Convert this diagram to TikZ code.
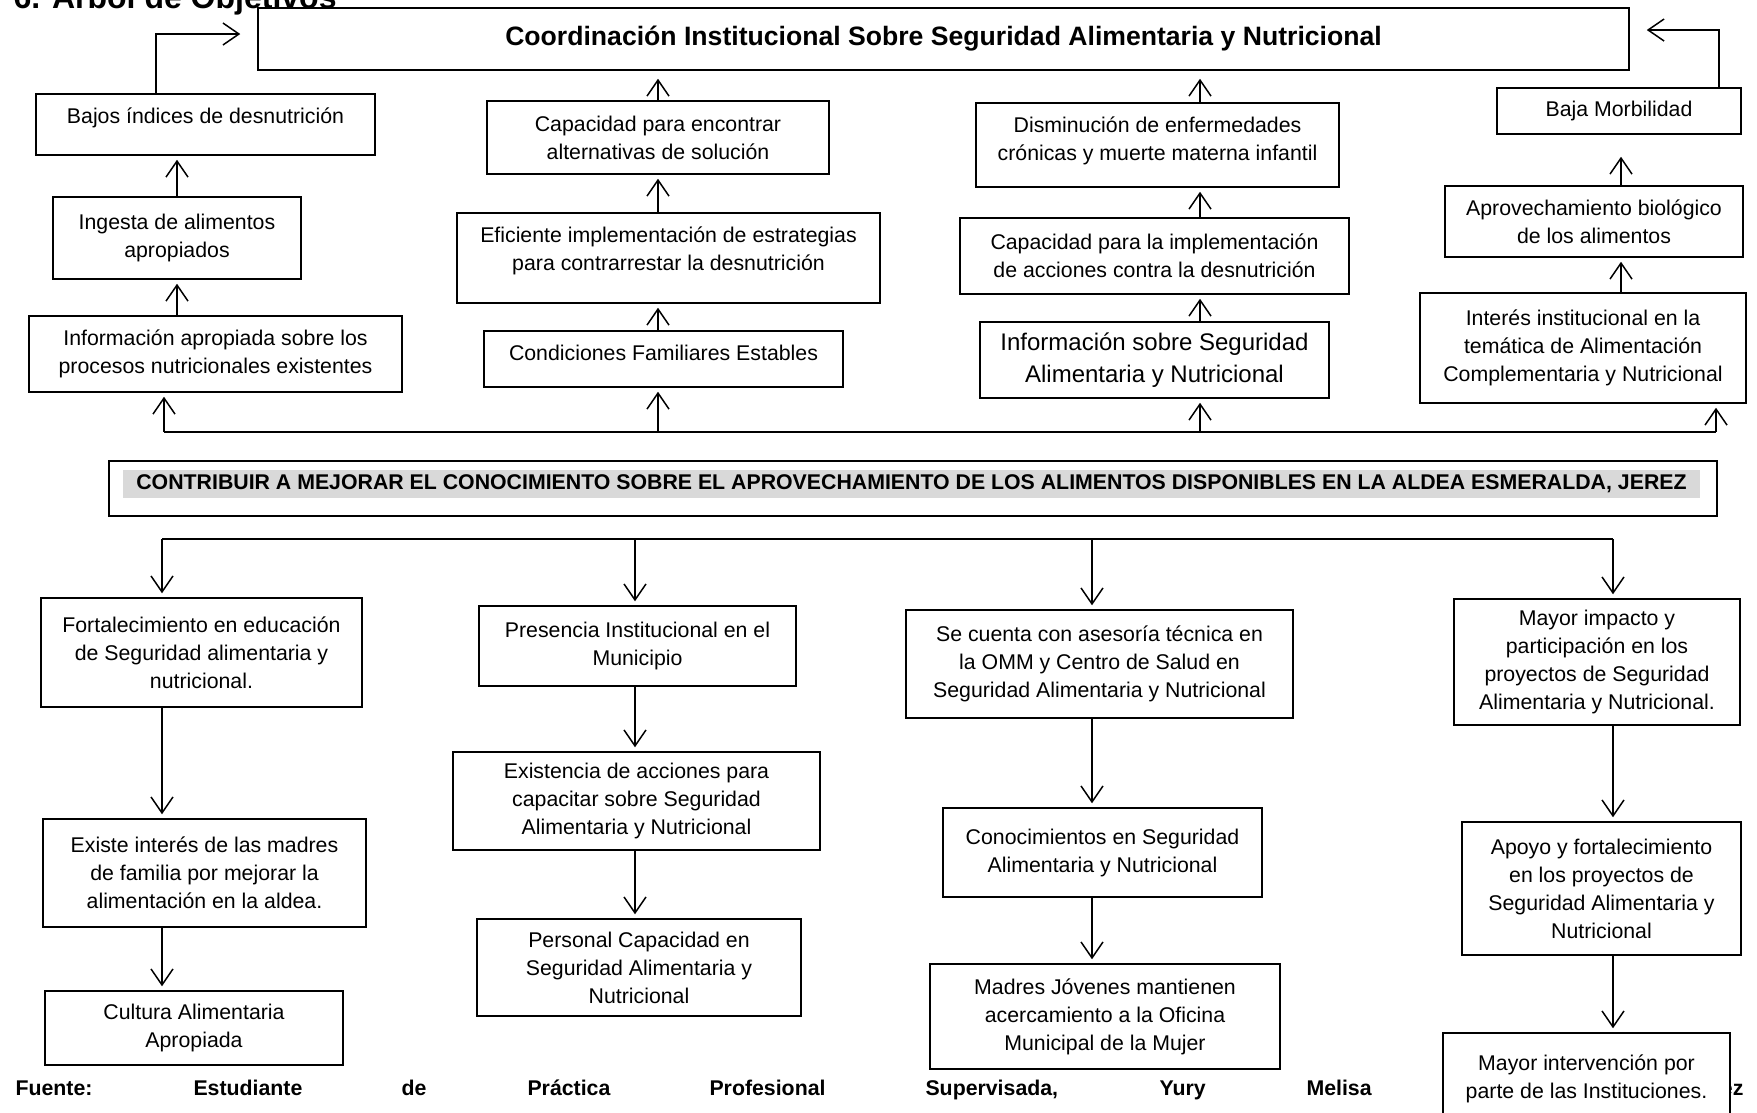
\documentclass[tikz,border=0pt]{standalone}
\usepackage{fontspec}
\setmainfont{Liberation Sans}
\usetikzlibrary{arrows.meta}

\tikzset{
  caja/.style={draw, line width=1.5pt, align=center, inner sep=0pt,
    font=\fontsize{21.3}{28}\selectfont},
  tam/.style 2 args={minimum width=#1pt, minimum height=#2pt},
  sube/.style={text depth=#1pt},
  linea/.style={line width=1.5pt},
  flecha/.style={line width=1.5pt, -{Straight Barb[length=16pt,width=22pt]}, shorten >=4pt},
  negrita/.style={font=\bfseries\fontsize{21.3}{28}\selectfont}
}

\begin{document}
\begin{tikzpicture}[x=1pt,y=-1pt]
  \useasboundingbox (0,0) rectangle (1757,1112);

  \node[anchor=base west, font=\bfseries\fontsize{32}{38}\selectfont] (titulo) at (10,8) {6. Árbol de Objetivos};

  % fines
  \node[caja, tam={1371}{62}, font=\bfseries\fontsize{26.6}{32}\selectfont] (coord) at (943.5,39)
    {Coordinación Institucional Sobre Seguridad Alimentaria y Nutricional};

  \node[caja, tam={339}{61}, sube=17.5] (bajos) at (205.5,124.5) {Bajos índices de desnutrición};
  \node[caja, tam={248}{82}] (ingesta) at (177,238) {Ingesta de alimentos\\apropiados};
  \node[caja, tam={373}{76}] (infoap) at (215.5,354) {Información apropiada sobre los\\procesos nutricionales existentes};

  \node[caja, tam={342}{73}] (capenc) at (658,137.5) {Capacidad para encontrar\\alternativas de solución};
  \node[caja, tam={423}{90}, sube=18.5] (efic) at (668.5,258) {Eficiente implementación de estrategias\\para contrarrestar la desnutrición};
  \node[caja, tam={359}{56}, sube=13] (condic) at (663.5,359) {Condiciones Familiares Estables};

  \node[caja, tam={363}{84}, sube=12.5] (dismin) at (1157.5,145) {Disminución de enfermedades\\crónicas y muerte materna infantil};
  \node[caja, tam={389}{76}] (capimp) at (1154.5,256) {Capacidad para la implementación\\de acciones contra la desnutrición};
  \node[caja, tam={349}{76}, font=\fontsize{24}{31.5}\selectfont] (infosan) at (1154.5,360)
    {Información sobre Seguridad\\Alimentaria y Nutricional};

  \node[caja, tam={244}{46}] (bajamorb) at (1619,111) {Baja Morbilidad};
  \node[caja, tam={298}{71}] (aprov) at (1594,221.5) {Aprovechamiento biológico\\de los alimentos};
  \node[caja, tam={326}{110}] (interes) at (1583,348)
    {Interés institucional en la\\temática de Alimentación\\Complementaria y Nutricional};

  \coordinate (esq1) at (156,34);
  \coordinate (esq2) at (1719,30);
  \coordinate (c3) at (1200,0);
  \coordinate (c4) at (1621,0);
  \coordinate (k1) at (164,432);
  \coordinate (k4) at (1716,432);

  \draw[flecha, shorten >=17pt] (esq1 |- bajos.north) -- (esq1) -- (coord.west |- esq1);
  \draw[flecha, shorten >=17pt] (esq2 |- bajamorb.north) -- (esq2) -- (coord.east |- esq2);

  \draw[flecha] (ingesta.north) -- (ingesta.north |- bajos.south);
  \draw[flecha] (ingesta.south |- infoap.north) -- (ingesta.south);

  \draw[flecha, shorten >=8pt] (capenc.north) -- (capenc.north |- coord.south);
  \draw[flecha] (capenc.south |- efic.north) -- (capenc.south);
  \draw[flecha] (capenc.south |- condic.north) -- (capenc.south |- efic.south);

  \draw[flecha, shorten >=8pt] (c3 |- dismin.north) -- (c3 |- coord.south);
  \draw[flecha] (c3 |- capimp.north) -- (c3 |- dismin.south);
  \draw[flecha] (c3 |- infosan.north) -- (c3 |- capimp.south);

  \draw[flecha, shorten >=22pt] (c4 |- aprov.north) -- (c4 |- bajamorb.south);
  \draw[flecha] (c4 |- interes.north) -- (c4 |- aprov.south);

  \draw[linea] (k1) -- (k4);
  \draw[flecha] (k1) -- (k1 |- infoap.south);
  \draw[flecha] (capenc.south |- k1) -- (capenc.south |- condic.south);
  \draw[flecha] (c3 |- k1) -- (c3 |- infosan.south);
  \draw[flecha] (k4) -- (k4 |- interes.south);

  % objetivo
  \node[caja, tam={1608}{55}] (meta) at (913,488.5) {};
  \node[fill=black!15, inner sep=0pt, tam={1577}{28}, negrita] (metatxt) at (911.5,484)
    {CONTRIBUIR A MEJORAR EL CONOCIMIENTO SOBRE EL APROVECHAMIENTO DE LOS ALIMENTOS DISPONIBLES EN LA ALDEA ESMERALDA, JEREZ};

  % medios
  \node[caja, tam={321}{109}] (fort) at (201.5,652.5) {Fortalecimiento en educación\\de Seguridad alimentaria y\\nutricional.};
  \node[caja, tam={323}{108}] (existe) at (204.5,873) {Existe interés de las madres\\de familia por mejorar la\\alimentación en la aldea.};
  \node[caja, tam={298}{74}] (cultura) at (194,1028) {Cultura Alimentaria\\Apropiada};

  \node[caja, tam={317}{80}] (presen) at (637.5,646) {Presencia Institucional en el\\Municipio};
  \node[caja, tam={367}{98}] (existencia) at (636.5,801) {Existencia de acciones para\\capacitar sobre Seguridad\\Alimentaria y Nutricional};
  \node[caja, tam={324}{97}] (personal) at (639,967.5) {Personal Capacidad en\\Seguridad Alimentaria y\\Nutricional};

  \node[caja, tam={387}{108}] (secuenta) at (1099.5,664) {Se cuenta con asesoría técnica en\\la OMM y Centro de Salud en\\Seguridad Alimentaria y Nutricional};
  \node[caja, tam={319}{89}] (conoc) at (1102.5,852.5) {Conocimientos en Seguridad\\Alimentaria y Nutricional};
  \node[caja, tam={350}{105}] (madres) at (1105,1016.5) {Madres Jóvenes mantienen\\acercamiento a la Oficina\\Municipal de la Mujer};

  \node[caja, tam={286}{126}] (mayorimp) at (1597,662) {Mayor impacto y\\participación en los\\proyectos de Seguridad\\Alimentaria y Nutricional.};
  \node[caja, tam={279}{133}] (apoyo) at (1601.5,888.5) {Apoyo y fortalecimiento\\en los proyectos de\\Seguridad Alimentaria y\\Nutricional};

  \coordinate (d1) at (162,539);
  \coordinate (d2) at (635,539);
  \coordinate (d3) at (1092,539);
  \coordinate (d4) at (1613,539);

  % fuente
  \node[anchor=base west, negrita] (f1) at (12,1095) {Fuente:};
  \node[anchor=base west, negrita] (f2) at (190,1095) {Estudiante};
  \node[anchor=base west, negrita] (f3) at (398,1095) {de};
  \node[anchor=base west, negrita] (f4) at (524,1095) {Práctica};
  \node[anchor=base west, negrita] (f5) at (706,1095) {Profesional};
  \node[anchor=base west, negrita] (f6) at (922,1095) {Supervisada,};
  \node[anchor=base west, negrita] (f7) at (1156,1095) {Yury};
  \node[anchor=base west, negrita] (f8) at (1303,1095) {Melisa};
  \node[anchor=base east, negrita] (f9) at (1747,1095) {ez};

  \node[caja, fill=white, tam={287}{92}] (mayorint) at (1586.5,1079) {Mayor intervención por\\parte de las Instituciones.};

  \draw[linea] (d1) -- (d4);
  \draw[flecha] (d1) -- (d1 |- fort.north);
  \draw[flecha] (d2) -- (d2 |- presen.north);
  \draw[flecha] (d3) -- (d3 |- secuenta.north);
  \draw[flecha] (d4) -- (d4 |- mayorimp.north);

  \draw[flecha] (d1 |- fort.south) -- (d1 |- existe.north);
  \draw[flecha] (d1 |- existe.south) -- (d1 |- cultura.north);
  \draw[flecha] (d2 |- presen.south) -- (d2 |- existencia.north);
  \draw[flecha] (d2 |- existencia.south) -- (d2 |- personal.north);
  \draw[flecha] (d3 |- secuenta.south) -- (d3 |- conoc.north);
  \draw[flecha] (d3 |- conoc.south) -- (d3 |- madres.north);
  \draw[flecha] (d4 |- mayorimp.south) -- (d4 |- apoyo.north);
  \draw[flecha] (d4 |- apoyo.south) -- (d4 |- mayorint.north);
\end{tikzpicture}
\end{document}
